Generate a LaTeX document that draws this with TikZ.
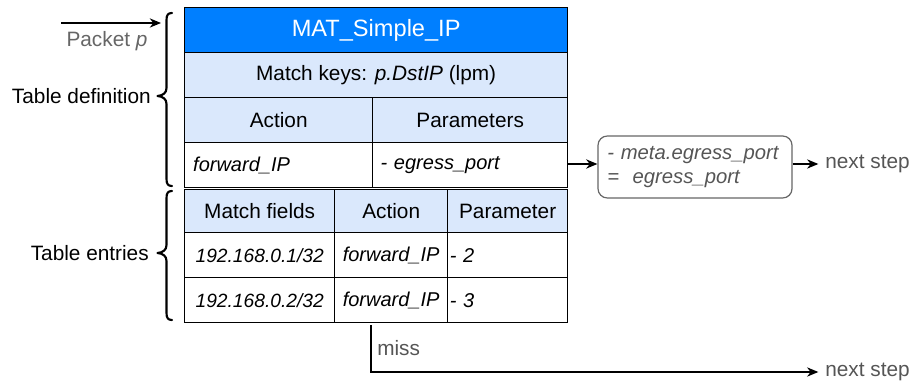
\documentclass[tikz,border=0pt]{standalone}
\usepackage{fontspec}
\setmainfont{Liberation Sans}
\usetikzlibrary{arrows.meta}
\definecolor{titleblue}{HTML}{007FFF}
\definecolor{paleblue}{HTML}{DAE8FC}
\definecolor{softgray}{HTML}{555555}
\definecolor{boxgray}{HTML}{666666}
\newcommand\bodysize{\fontsize{15.6}{18}\selectfont}
\newcommand\itsize{\fontsize{15}{18}\selectfont}
\tikzset{
  cell/.style={draw=black, line width=1pt, anchor=north west, inner sep=0pt,
    font=\bodysize, text=black},
  lcell/.style={cell, inner xsep=#1, align=left},
  arr/.style={line width=1pt, -{Stealth[length=8.5pt,width=7pt]}},
  brace/.style={line width=1.6pt, line cap=round, line join=round},
  side/.style={font=\bodysize, text=black, inner sep=0pt},
  grey/.style={font=\bodysize, text=softgray, inner sep=0pt},
}
\begin{document}
\begin{tikzpicture}[x=0.75pt, y=-0.75pt]
\useasboundingbox (0,0) rectangle (912,384);

% table definition
\node[cell, fill=titleblue, minimum width=287.25pt, minimum height=33.75pt,
  font=\fontsize{17.7}{20}\selectfont, text=white] (title) at (184,7) {MAT\_Simple\_IP};
\node[cell, fill=paleblue, minimum width=287.25pt, minimum height=33.75pt] (keys) at (184,52)
  {Match keys: \textit{p.DstIP} (lpm)};
\node[cell, fill=paleblue, minimum width=141pt, minimum height=33.75pt] (hAction) at (184,97) {Action};
\node[cell, fill=paleblue, minimum width=146.25pt, minimum height=33.75pt] (hParams) at (372,97) {Parameters};
\node[lcell=6.4pt, text width=128.2pt, minimum height=33.75pt, font=\itsize] (defAction) at (184,142) {\textit{forward\_IP}};
\node[lcell=6pt, text width=134.25pt, minimum height=33.75pt, font=\itsize] (defParams) at (372,142) {\textit{- egress\_port}};

% table entries
\node[cell, fill=paleblue, minimum width=112.5pt, minimum height=32.25pt] (hFields) at (184,189) {Match fields};
\node[cell, fill=paleblue, minimum width=84.75pt, minimum height=32.25pt] (hAct2) at (334,189) {Action};
\node[cell, fill=paleblue, minimum width=90pt, minimum height=32.25pt] (hPar2) at (447,189) {Parameter};
\node[cell, minimum width=112.5pt, minimum height=33.75pt, font=\fontsize{14.4}{18}\selectfont] (f1) at (184,232) {\textit{192.168.0.1/32}};
\node[cell, minimum width=84.75pt, minimum height=33.75pt, font=\itsize] (a1) at (334,232) {\textit{forward\_IP}};
\node[lcell=1.6pt, text width=86.8pt, minimum height=33.75pt, font=\itsize] (p1) at (447,232) {\textit{- 2}};
\node[cell, minimum width=112.5pt, minimum height=33.75pt, font=\fontsize{14.4}{18}\selectfont] (f2) at (184,277) {\textit{192.168.0.2/32}};
\node[cell, minimum width=84.75pt, minimum height=33.75pt, font=\itsize] (a2) at (334,277) {\textit{forward\_IP}};
\node[lcell=1.6pt, text width=86.8pt, minimum height=33.75pt, font=\itsize] (p2) at (447,277) {\textit{- 3}};

% braces on the left
\draw[brace] (172,13) .. controls (168,13) and (166.5,15) .. (166.5,20) -- (166.5,88)
  .. controls (166.5,93) and (163,95.5) .. (157.5,96)
  .. controls (163,96.5) and (166.5,99) .. (166.5,104) -- (166.5,179)
  .. controls (166.5,184) and (168,186) .. (172,186);
\draw[brace] (172,191) .. controls (168,191) and (166.5,193) .. (166.5,198) -- (166.5,245)
  .. controls (166.5,250) and (163,252.5) .. (157.5,253)
  .. controls (163,253.5) and (166.5,256) .. (166.5,261) -- (166.5,313)
  .. controls (166.5,318) and (168,320) .. (172,320);
\node[side, anchor=east] (defLabel) at (151,96) {Table definition};
\node[side, anchor=east] (entLabel) at (149,253) {Table entries};

% incoming packet
\coordinate (pktIn) at (61,23);
\coordinate (pktAt) at (161,23);
\draw[arr] (pktIn) -- (pktAt);
\node[grey, text=boxgray] (pktLabel) at (107,41) {Packet \textit{p}};

% action result
\node[draw=boxgray, line width=0.9pt, rounded corners=7pt, minimum width=145.5pt,
  minimum height=46.5pt, inner xsep=7pt, align=left, text width=131.5pt,
  font=\fontsize{15.2}{18.2}\selectfont\itshape, text=softgray] (meta) at (695,167)
  {- meta.egress\_port\\=\ \ egress\_port};
\node[grey, anchor=west] (next1) at (825,164) {next step};
\draw[arr] (defParams.east |- 0,164) -- (meta.west |- 0,164);
\draw[arr] (meta.east |- 0,164) -- ([xshift=-5pt]next1.west);

% miss path
\coordinate (missTop) at (371,325);
\node[grey, anchor=west] (next2) at (825,372) {next step};
\node[grey, anchor=west] (missLabel) at (377,348) {miss};
\draw[arr] (missTop) |- ([xshift=-5pt]next2.west);
\end{tikzpicture}
\end{document}
